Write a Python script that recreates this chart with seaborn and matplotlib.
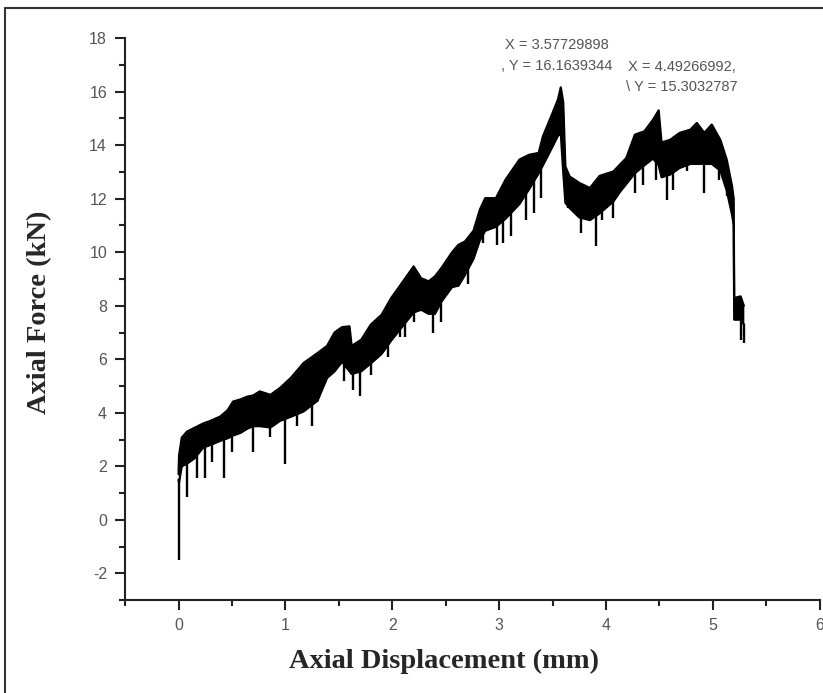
import numpy as np
import pandas as pd
import matplotlib
matplotlib.use("Agg")
import matplotlib.pyplot as plt
from matplotlib.lines import Line2D
from matplotlib.ticker import MultipleLocator
import seaborn as sns

# ---- data (envelope of the noisy force signal) ----
disp = [0, 0.005, 0.03, 0.08, 0.15, 0.23, 0.3, 0.39, 0.46, 0.51, 0.58, 0.64, 0.7,
        0.76, 0.86, 0.95, 1.05, 1.17, 1.3, 1.39, 1.46, 1.53, 1.6, 1.62, 1.71, 1.8,
        1.9, 1.99, 2.08, 2.2, 2.27, 2.34, 2.4, 2.46, 2.56, 2.62, 2.68, 2.76, 2.82,
        2.87, 2.97, 3.06, 3.19, 3.28, 3.37, 3.41, 3.5, 3.55, 3.577, 3.6, 3.62, 3.66,
        3.75, 3.85, 3.94, 4.07, 4.13, 4.19, 4.27, 4.36, 4.44, 4.493, 4.52, 4.6, 4.69,
        4.79, 4.85, 4.92, 4.99, 5.07, 5.13, 5.18, 5.195, 5.2, 5.26, 5.29]
force_upper = [1.7, 2.4, 3.07, 3.3, 3.44, 3.6, 3.7, 3.86, 4.1, 4.42, 4.5, 4.6, 4.65,
               4.8, 4.67, 4.93, 5.3, 5.86, 6.23, 6.5, 7.0, 7.2, 7.23, 6.5, 6.73, 7.3,
               7.66, 8.29, 8.79, 9.47, 9.03, 8.91, 9.1, 9.41, 10.0, 10.28, 10.4, 10.8, 11.59,
               12.02, 12.02, 12.71, 13.46, 13.64, 13.71, 14.33, 15.2, 15.7, 16.16, 15.6, 13.2, 12.83,
               12.59, 12.4, 12.85, 13.02, 13.27, 13.52, 14.39, 14.52, 14.95, 15.30, 14.1, 14.2, 14.46,
               14.58, 14.83, 14.46, 14.77, 14.2, 13.46, 12.46, 12.0, 8.29, 8.35, 8.0]
force_lower = [1.5, 1.4, 2.0, 2.1, 2.3, 2.7, 2.8, 2.95, 3.05, 3.15, 3.25, 3.4, 3.5,
               3.5, 3.45, 3.7, 3.85, 4.05, 4.45, 5.3, 5.55, 5.9, 5.55, 5.45, 5.55, 5.85,
               6.2, 6.7, 7.15, 7.75, 7.85, 7.7, 7.7, 8.15, 8.7, 8.75, 9.15, 9.75, 10.45,
               10.8, 10.95, 11.25, 11.8, 12.35, 12.95, 13.25, 13.95, 14.35, 14.45, 13.0, 11.85, 11.65,
               11.3, 11.2, 11.45, 11.9, 12.25, 12.55, 12.95, 13.25, 13.5, 13.25, 12.8, 12.9, 13.15,
               13.3, 13.3, 13.3, 13.3, 13.05, 12.3, 11.4, 11.0, 7.48, 7.48, 7.3]
spike_x = [0.0, 0.08, 0.17, 0.245, 0.31, 0.43, 0.5, 0.7, 0.86, 1.0, 1.11, 1.25, 1.3,
           1.55, 1.63, 1.7, 1.8, 1.96, 2.07, 2.12, 2.2, 2.38, 2.46, 2.57, 2.71, 2.85,
           2.98, 3.04, 3.11, 3.25, 3.33, 3.39, 3.64, 3.77, 3.91, 3.96, 4.07, 4.27, 4.35,
           4.47, 4.57, 4.63, 4.76, 4.92, 5.06, 5.13, 5.2, 5.26, 5.29]
spike_min = [-1.5, 0.87, 1.56, 1.56, 2.18, 1.56, 2.55, 2.55, 3.1, 2.1, 3.49, 3.5, 4.42,
             5.17, 4.86, 4.61, 5.42, 6.1, 6.85, 6.85, 7.41, 6.98, 7.41, 8.66, 8.8, 10.34,
             10.28, 10.34, 10.59, 11.21, 11.46, 12.02, 11.65, 10.72, 10.22, 11.21, 11.28, 12.21, 12.52,
             12.71, 11.96, 12.34, 13.02, 12.21, 12.71, 12.09, 7.48, 6.73, 6.6]
peak_labels = ["X = 3.57729898\n, Y = 16.1639344", "X = 4.49266992,\n\\ Y = 15.3032787"]
x_ticks = [0, 1, 2, 3, 4, 5, 6]
y_ticks = [-2, 0, 2, 4, 6, 8, 10, 12, 14, 16, 18]

sns.set_style("ticks")
plt.rcParams['font.family'] = ['Liberation Sans', 'DejaVu Sans']
plt.rcParams['axes.unicode_minus'] = False

fig = plt.figure(figsize=(8.23, 6.93), dpi=100)
ax = fig.add_axes([0.152, 0.134, 0.844, 0.811])

df_u = pd.DataFrame({"x": disp, "y": force_upper})
df_l = pd.DataFrame({"x": disp, "y": force_lower})
sns.lineplot(data=df_u, x="x", y="y", ax=ax, color="black", lw=1.6,
             estimator=None, sort=False)
sns.lineplot(data=df_l, x="x", y="y", ax=ax, color="black", lw=1.6,
             estimator=None, sort=False)
ax.fill_between(disp, force_lower, force_upper, color="black", lw=0)
spike_top = np.interp(spike_x, disp, force_lower)
ax.vlines(spike_x, spike_min, spike_top, color="black", lw=1.7)

ax.set_xlim(-0.5, 6)
ax.set_ylim(-3, 18)
ax.set_xticks(x_ticks)
ax.set_yticks(y_ticks)
ax.xaxis.set_minor_locator(MultipleLocator(0.5))
ax.yaxis.set_minor_locator(MultipleLocator(1))
for side in ["top", "right"]:
    ax.spines[side].set_visible(False)
for side in ["left", "bottom"]:
    ax.spines[side].set_linewidth(1.5)
    ax.spines[side].set_color("#222222")
ax.tick_params(which="major", direction="out", length=7, width=1.5,
               color="#222222", labelsize=11.5, labelcolor="#555555", pad=6)
ax.tick_params(which="minor", direction="out", length=4, width=1.5, color="#222222")

ax.set_xlabel("Axial Displacement (mm)", family="Liberation Serif",
              fontweight="bold", fontsize=20.5)
ax.set_ylabel("Axial Force (kN)", family="Liberation Serif",
              fontweight="bold", fontsize=20.5)
ax.xaxis.set_label_coords(0.459, -0.086)
ax.yaxis.set_label_coords(-0.105, 0.512)

ax.text(3.54, 17.35, peak_labels[0], fontsize=10.5, color="#555555",
        linespacing=1.55, ha="center", va="center")
ax.text(4.71, 16.54, peak_labels[1], fontsize=10.5, color="#555555",
        linespacing=1.55, ha="center", va="center")

# outer frame (left and top edges visible)
fig.add_artist(Line2D([0.006, 0.006], [0.0, 0.988], transform=fig.transFigure,
                      color="#333333", lw=1.5))
fig.add_artist(Line2D([0.006, 1.0], [0.988, 0.988], transform=fig.transFigure,
                      color="#333333", lw=1.5))

fig.savefig("out.png", dpi=100)
